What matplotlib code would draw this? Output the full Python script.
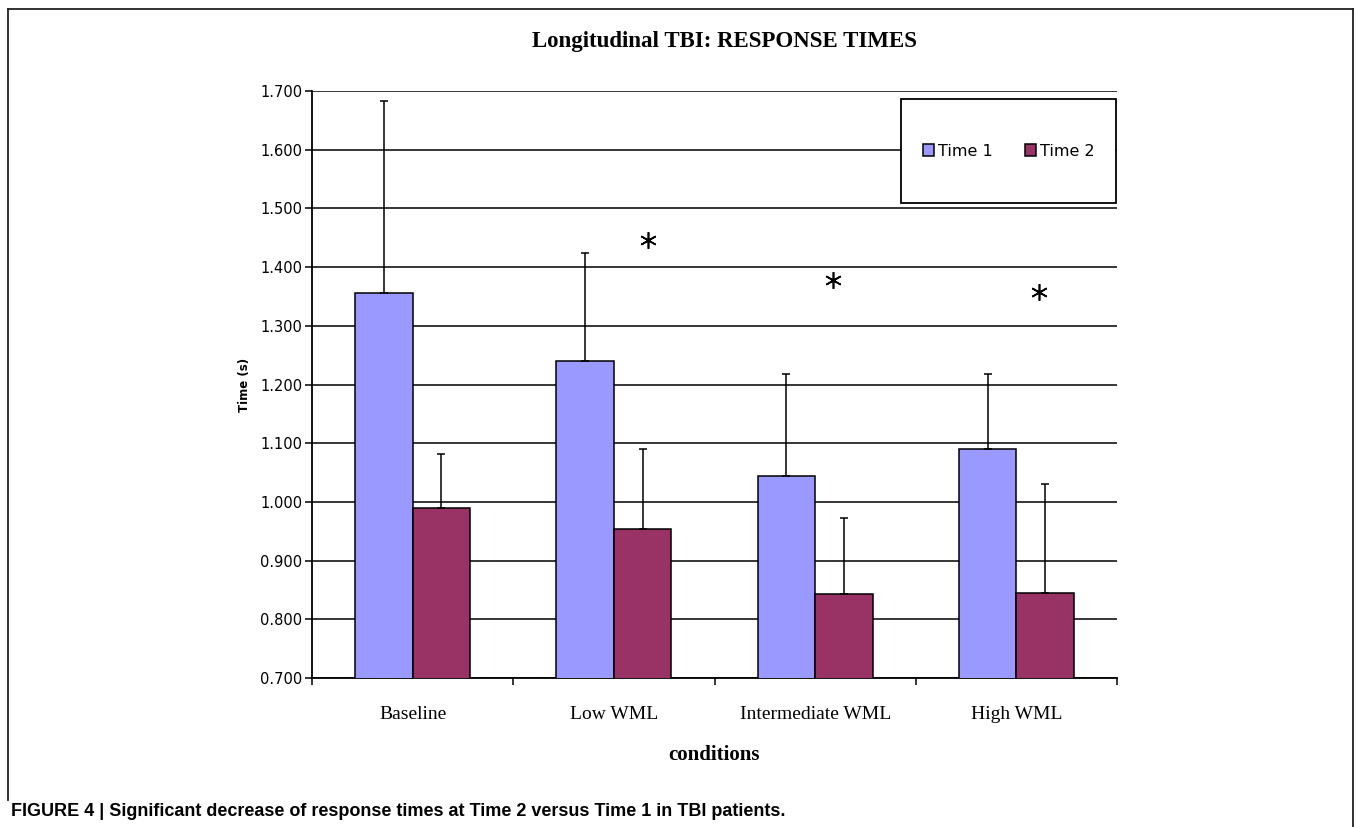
import numpy as np
import matplotlib
matplotlib.use("Agg")
import matplotlib.pyplot as plt
from matplotlib.patches import Rectangle
from matplotlib.lines import Line2D
from matplotlib import font_manager as fm

# ---------------- data ----------------
categories = ["Baseline", "Low WML", "Intermediate WML", "High WML"]
series_names = ["Time 1", "Time 2"]
time1 = [1.356, 1.240, 1.044, 1.090]
time2 = [0.990, 0.954, 0.843, 0.845]
time1_err = [0.327, 0.184, 0.174, 0.128]
time2_err = [0.092, 0.136, 0.130, 0.185]
yticks = [0.7, 0.8, 0.9, 1.0, 1.1, 1.2, 1.3, 1.4, 1.5, 1.6, 1.7]
# significance asterisks (category index offset, y position)
star_x = [1.17, 2.09, 3.11]
star_y = [1.446, 1.378, 1.358]

title = "Longitudinal TBI: RESPONSE TIMES"
ylabel = "Time (s)"
xlabel = "conditions"
caption = "FIGURE 4 | Significant decrease of response times at Time 2 versus Time 1 in TBI patients."

c1 = "#9999FF"
c2 = "#993366"

names = {f.name for f in fm.fontManager.ttflist}
narrow = "Liberation Sans Narrow" if "Liberation Sans Narrow" in names else "Liberation Sans"

W, H = 1356, 827
fig = plt.figure(figsize=(W / 100, H / 100), dpi=100)
fig.patch.set_facecolor("white")

ax = fig.add_axes([312 / W, 1 - 678 / H, (1117 - 312) / W, (678 - 91) / H])
ax.set_facecolor("white")

x = np.arange(len(categories))
bw = 0.286
off = 0.143
ax.bar(x - off, time1, bw, bottom=0, color=c1, edgecolor="black", linewidth=1.1, zorder=3,
       label=series_names[0])
ax.bar(x + off, time2, bw, bottom=0, color=c2, edgecolor="black", linewidth=1.1, zorder=3,
       label=series_names[1])
ax.errorbar(x - off, time1, yerr=[np.zeros(4), time1_err], fmt="none", ecolor="black",
            elinewidth=1.1, capsize=2.8, capthick=1.1, zorder=4)
ax.errorbar(x + off, time2, yerr=[np.zeros(4), time2_err], fmt="none", ecolor="black",
            elinewidth=1.1, capsize=2.8, capthick=1.1, zorder=4)

ax.plot(star_x, star_y, linestyle="none", marker=(6, 2, 0), markersize=12,
        markeredgewidth=1.2, color="black", zorder=5)

ax.set_ylim(0.7, 1.7)
ax.set_xlim(-0.5, 3.5)
ax.set_yticks(yticks)
ax.set_yticklabels([f"{v:.3f}" for v in yticks], fontsize=10.5, family="DejaVu Sans")
ax.yaxis.grid(True, color="black", linewidth=1.1, zorder=0)
ax.set_axisbelow(True)
ax.tick_params(axis="y", direction="out", length=5, width=1.1, pad=2)

ax.set_xticks(np.arange(-0.5, 4.0, 1.0))
ax.set_xticklabels([])
ax.tick_params(axis="x", which="major", direction="out", length=5, width=1.1)
ax.set_xticks(x, minor=True)
ax.set_xticklabels(categories, minor=True, fontsize=14, family="Liberation Serif")
ax.tick_params(axis="x", which="minor", length=0, pad=20)

for s in ["top", "right"]:
    ax.spines[s].set_visible(False)
for s in ["left", "bottom"]:
    ax.spines[s].set_linewidth(1.3)

# legend box
lx0, lx1 = (901 - 312) / 805, (1116 - 312) / 805
ly0, ly1 = (678 - 203) / 587, (678 - 99) / 587
ax.add_patch(Rectangle((lx0, ly0), lx1 - lx0, ly1 - ly0, transform=ax.transAxes,
                       facecolor="white", edgecolor="black", linewidth=1.3, zorder=6))
leg = ax.legend(loc="center", bbox_to_anchor=(lx0, ly0, lx1 - lx0, ly1 - ly0), ncol=2,
                frameon=False, handlelength=0.7, handleheight=0.7,
                handletextpad=0.25, columnspacing=2.0, prop={"family": "DejaVu Sans", "size": 11.5})
leg.set_zorder(7)

fig.text(725 / W, 1 - 42 / H, title, ha="center", va="center", fontsize=16.5,
         fontweight="bold", family="Liberation Serif")
fig.text(714 / W, 1 - 755 / H, xlabel, ha="center", va="center", fontsize=15,
         fontweight="bold", family="Liberation Serif")
fig.text(244 / W, 1 - 385 / H, ylabel, ha="center", va="center", rotation=90, fontsize=8.5,
         fontweight="bold", family="DejaVu Sans")
fig.text(11 / W, 1 - 812 / H, caption, ha="left", va="center", fontsize=13,
         fontweight="bold", family=narrow)

# outer frame
fc = "#222222"
fig.add_artist(Line2D([8 / W, 1353 / W], [1 - 9 / H, 1 - 9 / H], transform=fig.transFigure,
                      color=fc, linewidth=1.3))
fig.add_artist(Line2D([8 / W, 8 / W], [1 - 9 / H, 1 - 800 / H], transform=fig.transFigure,
                      color=fc, linewidth=1.3))
fig.add_artist(Line2D([1353 / W, 1353 / W], [1 - 9 / H, 0], transform=fig.transFigure,
                      color=fc, linewidth=1.3))

fig.savefig("out.png", dpi=100, facecolor="white")
